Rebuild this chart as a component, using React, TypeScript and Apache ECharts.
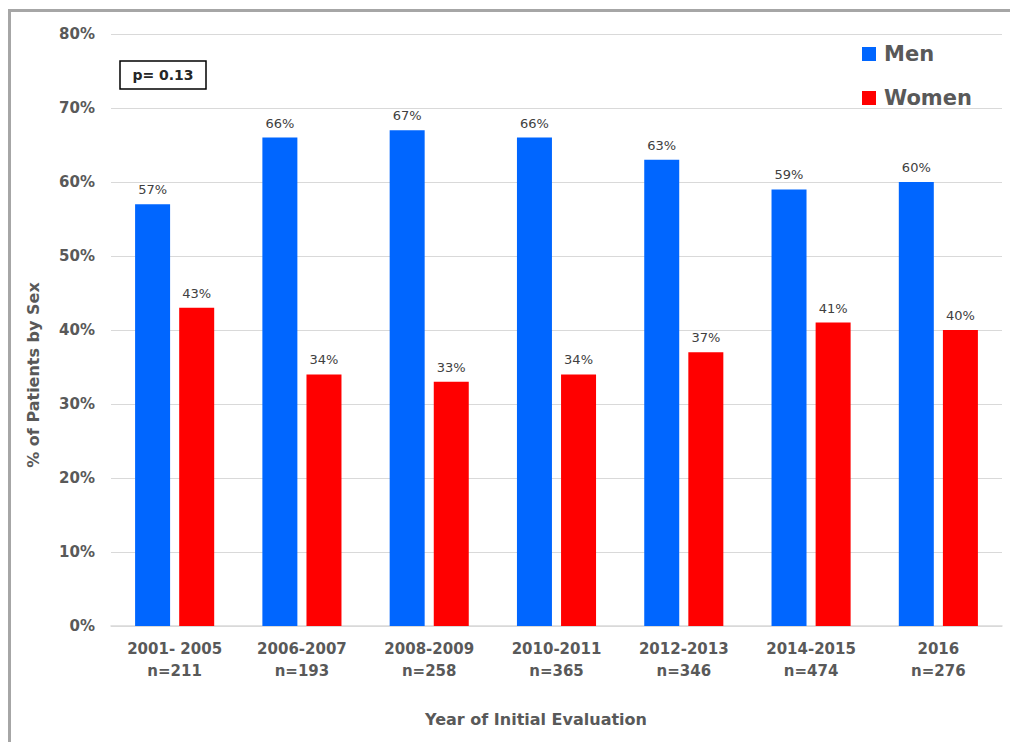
import React, { useEffect, useRef } from "react";
import * as echarts from "echarts";

const categories = [
  "2001- 2005\nn=211",
  "2006-2007\nn=193",
  "2008-2009\nn=258",
  "2010-2011\nn=365",
  "2012-2013\nn=346",
  "2014-2015\nn=474",
  "2016\nn=276",
];
const menValues = [57, 66, 67, 66, 63, 59, 60];
const womenValues = [43, 34, 33, 34, 37, 41, 40];
const yTicks = { min: 0, max: 80, interval: 10 };

const TEXT_GRAY = "#595959";
const BOLD_FONT = "'DejaVu Sans', sans-serif";

export default function App() {
  const ref = useRef<HTMLDivElement>(null);

  useEffect(() => {
    if (!ref.current) return;
    const chart = echarts.init(ref.current, undefined, { renderer: "svg" });
    const barLabel = {
      show: true,
      position: "top",
      distance: 8,
      formatter: "{c}%",
      color: "#404040",
      fontSize: 13,
      fontFamily: "'DejaVu Sans', sans-serif",
    };
    chart.setOption({
      animation: false,
      backgroundColor: "#ffffff",
      grid: { left: 111, right: 8, top: 34, bottom: 116, containLabel: false },
      legend: {
        orient: "vertical",
        left: 862,
        top: 43,
        padding: 0,
        itemWidth: 14,
        itemHeight: 14,
        itemGap: 22,
        icon: "rect",
        textStyle: {
          color: TEXT_GRAY,
          fontSize: 21,
          lineHeight: 22,
          fontWeight: "bold",
          fontFamily: BOLD_FONT,
          padding: [0, 0, 0, 3],
        },
        data: ["Men", "Women"],
      },
      xAxis: {
        type: "category",
        data: categories,
        axisLine: { lineStyle: { color: "#d9d9d9", width: 1.5 } },
        axisTick: { show: false },
        axisLabel: {
          color: TEXT_GRAY,
          fontSize: 15,
          fontWeight: "bold",
          fontFamily: BOLD_FONT,
          lineHeight: 22,
          margin: 12,
        },
      },
      yAxis: {
        type: "value",
        min: yTicks.min,
        max: yTicks.max,
        interval: yTicks.interval,
        axisLine: { show: false },
        axisTick: { show: false },
        splitLine: { lineStyle: { color: "#d9d9d9", width: 1 } },
        axisLabel: {
          formatter: "{value}%",
          color: TEXT_GRAY,
          fontSize: 15,
          fontWeight: "bold",
          fontFamily: BOLD_FONT,
          margin: 16,
        },
      },
      series: [
        {
          name: "Men",
          type: "bar",
          data: menValues,
          barWidth: 35,
          barGap: "26%",
          itemStyle: { color: "#0066FF" },
          label: barLabel,
        },
        {
          name: "Women",
          type: "bar",
          data: womenValues,
          barWidth: 35,
          itemStyle: { color: "#FF0000" },
          label: barLabel,
        },
      ],
      graphic: [
        {
          type: "line",
          shape: { x1: 9.5, y1: 10.5, x2: 1010, y2: 10.5 },
          style: { stroke: "#a6a6a6", lineWidth: 3 },
        },
        {
          type: "line",
          shape: { x1: 9.5, y1: 9, x2: 9.5, y2: 742 },
          style: { stroke: "#a6a6a6", lineWidth: 3 },
        },
        {
          type: "rect",
          shape: { x: 120, y: 61, width: 86, height: 28 },
          style: { fill: "#ffffff", stroke: "#000000", lineWidth: 1.5 },
        },
        {
          type: "text",
          x: 163,
          y: 75,
          style: {
            text: "p= 0.13",
            fill: "#262626",
            font: `bold 14px ${BOLD_FONT}`,
            textAlign: "center",
            textVerticalAlign: "middle",
          },
        },
        {
          type: "text",
          x: 33,
          y: 375,
          rotation: Math.PI / 2,
          style: {
            text: "% of Patients by Sex",
            fill: TEXT_GRAY,
            font: `bold 16px ${BOLD_FONT}`,
            textAlign: "center",
            textVerticalAlign: "middle",
          },
        },
        {
          type: "text",
          x: 536,
          y: 719,
          style: {
            text: "Year of Initial Evaluation",
            fill: TEXT_GRAY,
            font: `bold 16px ${BOLD_FONT}`,
            textAlign: "center",
            textVerticalAlign: "middle",
          },
        },
      ],
    });
    return () => chart.dispose();
  }, []);

  return (
    <div
      ref={ref}
      style={{ position: "absolute", left: 0, top: 0, width: 1010, height: 742 }}
    />
  );
}
